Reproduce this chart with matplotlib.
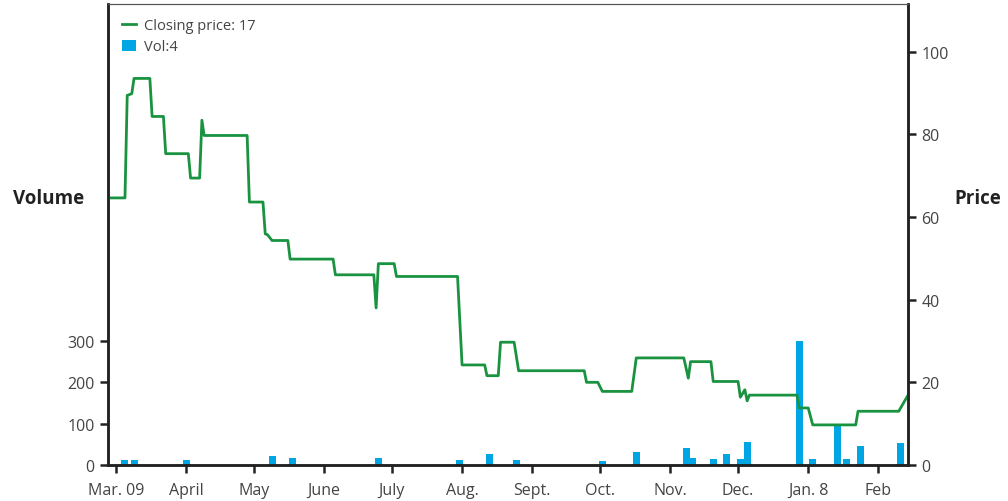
import pandas as pd
import matplotlib
matplotlib.use("Agg")
import matplotlib.pyplot as plt
import matplotlib.dates as mdates

plt.rcParams['font.family'] = ['Open Sans', 'DejaVu Sans']

# closing price, breakpoints of the step line
price_dates = ['2009-02-25', '2009-03-05', '2009-03-06', '2009-03-08', '2009-03-09',
               '2009-03-16', '2009-03-17', '2009-03-22', '2009-03-23', '2009-04-02',
               '2009-04-03', '2009-04-07', '2009-04-08', '2009-04-09', '2009-04-28',
               '2009-04-29', '2009-05-05', '2009-05-06', '2009-05-07', '2009-05-09',
               '2009-05-16', '2009-05-17', '2009-06-05', '2009-06-06', '2009-06-23',
               '2009-06-24', '2009-06-25', '2009-07-02', '2009-07-03', '2009-07-30',
               '2009-08-01', '2009-08-11', '2009-08-12', '2009-08-17', '2009-08-18',
               '2009-08-24', '2009-08-26', '2009-09-24', '2009-09-25', '2009-09-30',
               '2009-10-02', '2009-10-15', '2009-10-17', '2009-11-07', '2009-11-09',
               '2009-11-10', '2009-11-19', '2009-11-20', '2009-12-01', '2009-12-02',
               '2009-12-04', '2009-12-05', '2009-12-06', '2009-12-27', '2009-12-28',
               '2010-01-01', '2010-01-03', '2010-01-22', '2010-01-23', '2010-02-10',
               '2010-02-14']
price = [64.6, 64.6, 89.4, 89.8, 93.5,
         93.5, 84.3, 84.3, 75.3, 75.3,
         69.4, 69.4, 83.4, 79.7, 79.7,
         63.6, 63.6, 55.9, 55.7, 54.3,
         54.3, 49.8, 49.8, 46.0, 46.0,
         38.0, 48.7, 48.7, 45.6, 45.6,
         24.2, 24.2, 21.6, 21.6, 29.7,
         29.7, 22.8, 22.8, 20.0, 20.0,
         17.8, 17.8, 25.9, 25.9, 21.0,
         25.0, 25.0, 20.2, 20.2, 16.4,
         18.2, 15.5, 16.9, 16.9, 13.8,
         13.8, 9.7, 9.7, 13.0, 13.0,
         16.8]

# volume bars
vol_dates = ['2009-03-05', '2009-03-09', '2009-04-01', '2009-05-09', '2009-05-18',
             '2009-06-25', '2009-07-31', '2009-08-13', '2009-08-25', '2009-10-02',
             '2009-10-17', '2009-11-08', '2009-11-11', '2009-11-20', '2009-11-26',
             '2009-12-02', '2009-12-05', '2009-12-28', '2010-01-03', '2010-01-14',
             '2010-01-18', '2010-01-24', '2010-02-11']
volume = [12, 12, 12, 22, 17,
          17, 12, 27, 12, 10,
          31, 41, 17, 15, 27,
          15, 56, 300, 15, 97,
          15, 46, 53]

tick_dates = ['2009-03-01', '2009-04-01', '2009-05-01', '2009-06-01', '2009-07-01',
              '2009-08-01', '2009-09-01', '2009-10-01', '2009-11-01', '2009-12-01',
              '2010-01-01', '2010-02-01']
tick_labels = ['Mar. 09', 'April', 'May', 'June', 'July', 'Aug.', 'Sept.', 'Oct.',
               'Nov.', 'Dec.', 'Jan. 8', 'Feb']

green = '#1a9340'
blue = '#00a6e3'
grey = '#444444'

fig = plt.figure(figsize=(10.08, 5.02), dpi=100)
ax = fig.add_axes([108 / 1008, 36 / 502, 800 / 1008, 461 / 502])
ax2 = ax.twinx()

bars = ax.bar(pd.to_datetime(vol_dates), volume, width=3.1, color=blue, label='Vol:4', zorder=2)
line, = ax2.plot(pd.to_datetime(price_dates), price, color=green, lw=2.0, label='Closing price: 17')

start = mdates.date2num(pd.Timestamp('2009-03-01'))
ax.set_xlim(start - 3.5, start + 350.1)
ax.set_ylim(0, 1115)
ax2.set_ylim(0, 111.5)

ax.set_yticks([0, 100, 200, 300])
ax2.set_yticks([0, 20, 40, 60, 80, 100])
ax.set_xticks(pd.to_datetime(tick_dates))
ax.set_xticklabels(tick_labels)

for a in (ax, ax2):
    a.tick_params(colors='#222222', labelcolor=grey, labelsize=11.5, width=1.8, length=6, direction='out')
    for s in ('left', 'right', 'bottom'):
        a.spines[s].set_linewidth(1.8)
        a.spines[s].set_color('#222222')
    a.spines['top'].set_linewidth(0.8)
    a.spines['top'].set_color('#555555')
ax.tick_params(axis='x', pad=6)

ax.set_ylabel('Volume', rotation=0, fontweight='bold', fontsize=13.5, color='#222222', ha='center', va='center')
ax.yaxis.set_label_coords(-0.074, 0.579)
ax2.set_ylabel('Price', rotation=0, fontweight='bold', fontsize=13.5, color='#222222', ha='center', va='center')
ax2.yaxis.set_label_coords(1.0875, 0.579)

ax2.legend([line, bars], ['Closing price: 17', 'Vol:4'], loc='upper left', frameon=False,
           fontsize=10.5, handlelength=1.0, handleheight=0.8, labelspacing=0.45,
           borderaxespad=0.55, handletextpad=0.5, labelcolor=grey)

fig.savefig('out.png', dpi=100)
